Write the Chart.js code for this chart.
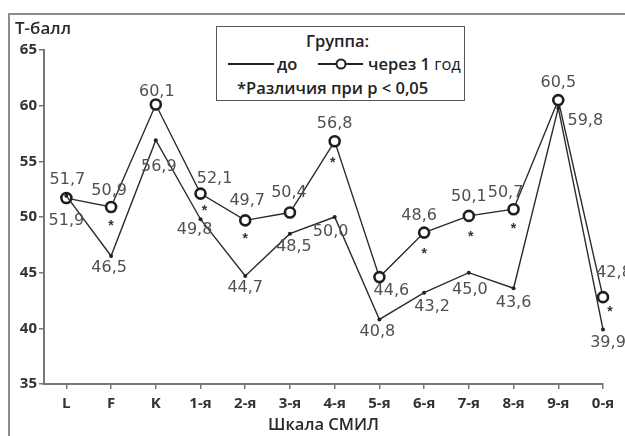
<!DOCTYPE html>
<html lang="ru">
<head>
<meta charset="utf-8">
<title>Профиль СМИЛ: до и через 1 год</title>
<script src="https://cdn.jsdelivr.net/npm/chart.js@4.4.1/dist/chart.umd.min.js"></script>
<style>
  html, body { margin: 0; padding: 0; background: #fff; overflow: hidden; }
  #wrap { position: relative; width: 625px; height: 436px; overflow: hidden; }
  #frame { position: absolute; left: 8px; top: 13px; width: 700px; height: 500px;
           border: 2px solid #8c8c8c; box-sizing: border-box; }
  canvas { position: absolute; left: 0; top: 0; }
  #ytitle { position: absolute; left: 15px; top: 16px; font: 600 17px "Open Sans", sans-serif;
            color: #2a2a2a; white-space: nowrap; }
  #legend { position: absolute; left: 216px; top: 26px; width: 249px; height: 75px;
            border: 1.5px solid #555; box-sizing: border-box; background: #fff;
            font: 600 16.5px "Open Sans", sans-serif; color: #222; }
  #legend .t { position: absolute; white-space: nowrap; transform: translateY(-50%); line-height: 20px; }
  #legend .ln { position: absolute; height: 1.6px; background: #222; }
  #legend .ci { position: absolute; width: 7px; height: 7px; border: 2px solid #222; border-radius: 50%;
                background: #fff; transform: translate(-50%, -50%); }
</style>
</head>
<body>
<div id="wrap">
  <div id="frame"></div>
  <canvas id="chart" width="625" height="436"></canvas>
  <div id="ytitle">Т-балл</div>
  <div id="legend">
    <span class="t" style="left:89px; top:14px;">Группа:</span>
    <div class="ln" style="left:11px; top:36px; width:46px;"></div>
    <span class="t" style="left:60px; top:37px;">до</span>
    <div class="ln" style="left:101px; top:36px; width:45px;"></div>
    <div class="ci" style="left:124px; top:37px;"></div>
    <span class="t" style="left:151px; top:37px;">через 1 <span style="font-weight:400">год</span></span>
    <span class="t" style="left:20px; top:61px;">*Различия при p &lt; 0,05</span>
  </div>
</div>
<script>
// Шкалы СМИЛ
const categories = ['L', 'F', 'K', '1-я', '2-я', '3-я', '4-я', '5-я', '6-я', '7-я', '8-я', '9-я', '0-я'];
// Средние Т-баллы группы
const before = [51.9, 46.5, 56.9, 49.8, 44.7, 48.5, 50.0, 40.8, 43.2, 45.0, 43.6, 59.8, 39.9];
const afterYear = [51.7, 50.9, 60.1, 52.1, 49.7, 50.4, 56.8, 44.6, 48.6, 50.1, 50.7, 60.5, 42.8];
// Различия при p < 0,05
const significant = [false, true, false, true, true, false, true, false, true, true, true, false, true];
const yTicks = [35, 40, 45, 50, 55, 60, 65];

// Смещения подписей значений относительно точки (px)
const beforeLabelShift = [[0, 25], [-2, 12], [3, 27], [-6, 11], [0, 12], [4, 13], [-4, 15],
                          [-2, 12], [8, 14], [1, 17], [0, 15], [27, 13], [5, 13]];
const afterLabelShift = [[1, -18], [-2, -16], [1, -13], [14, -15], [2, -19], [-1, -20], [0, -17],
                         [12, 14], [-5, -17], [0, -19], [-8, -16], [0, -17], [11, -24]];
const starShift = [[0, 0], [0, 15], [0, 0], [4, 13], [0, 15], [0, 0], [-2, 18],
                   [0, 0], [0, 17], [2, 17], [0, 16], [0, 0], [7, 11]];

const fmt = v => v.toFixed(1).replace('.', ',');
const toPoints = arr => arr.map((v, i) => ({ x: i, y: v }));

const valueLabels = {
  id: 'valueLabels',
  afterDatasetsDraw(chart) {
    const ctx = chart.ctx;
    ctx.save();
    ctx.font = '16px "DejaVu Sans", sans-serif';
    ctx.fillStyle = '#505050';
    ctx.textAlign = 'center';
    ctx.textBaseline = 'middle';
    const shifts = [beforeLabelShift, afterLabelShift];
    chart.data.datasets.forEach((ds, di) => {
      const meta = chart.getDatasetMeta(di);
      meta.data.forEach((pt, i) => {
        const [dx, dy] = shifts[di][i];
        ctx.fillText(fmt(ds.data[i].y), pt.x + dx, pt.y + dy);
      });
    });
    // звёздочки под значимыми точками второго замера
    const meta = chart.getDatasetMeta(1);
    ctx.font = 'bold 14px "Liberation Sans", sans-serif';
    ctx.fillStyle = '#333';
    ctx.textBaseline = 'alphabetic';
    meta.data.forEach((pt, i) => {
      if (!significant[i]) return;
      const [dx, dy] = starShift[i];
      ctx.fillText('*', pt.x + dx, pt.y + dy + 8);
    });
    ctx.restore();
  }
};

const tickFont = { family: '"Open Sans", sans-serif', size: 15, weight: '700' };

new Chart(document.getElementById('chart'), {
  type: 'line',
  data: {
    datasets: [
      {
        label: 'до',
        data: toPoints(before),
        borderColor: '#2b2b2b',
        borderWidth: 1.4,
        pointRadius: 2,
        pointBackgroundColor: '#222',
        pointBorderWidth: 0,
        tension: 0,
        clip: false
      },
      {
        label: 'через 1 год',
        data: toPoints(afterYear),
        borderColor: '#2b2b2b',
        borderWidth: 1.4,
        pointRadius: 5,
        pointBorderWidth: 2.6,
        pointBorderColor: '#1e1e1e',
        pointBackgroundColor: '#fff',
        tension: 0,
        clip: false
      }
    ]
  },
  options: {
    responsive: false,
    animation: false,
    layout: { padding: { top: 50, right: 22, left: 0, bottom: 0 } },
    plugins: { legend: { display: false }, tooltip: { enabled: false } },
    scales: {
      x: {
        type: 'linear',
        min: -0.5,
        max: categories.length - 1,
        afterBuildTicks: s => { s.ticks = categories.map((c, i) => ({ value: i })); },
        afterFit: s => { s.height = 52; },
        ticks: {
          callback: v => categories[v],
          autoSkip: false, maxRotation: 0, padding: 6,
          color: '#333', font: tickFont
        },
        grid: { drawOnChartArea: false, drawTicks: true, tickLength: 5, color: '#777', lineWidth: 1.5 },
        border: { display: true, color: '#777', width: 2 },
        title: {
          display: true, text: 'Шкала СМИЛ', color: '#2a2a2a',
          font: { family: '"Open Sans", sans-serif', size: 16.5, weight: '600' },
          padding: { top: 0, bottom: 1 }
        }
      },
      y: {
        min: yTicks[0],
        max: yTicks[yTicks.length - 1],
        afterBuildTicks: s => { s.ticks = yTicks.map(v => ({ value: v })); },
        afterFit: s => { s.width = 44; },
        ticks: { padding: 2, color: '#333', font: tickFont },
        grid: { drawOnChartArea: false, drawTicks: true, tickLength: 5, color: '#777', lineWidth: 1.5 },
        border: { display: true, color: '#777', width: 2 }
      }
    }
  },
  plugins: [valueLabels]
});
</script>
</body>
</html>
